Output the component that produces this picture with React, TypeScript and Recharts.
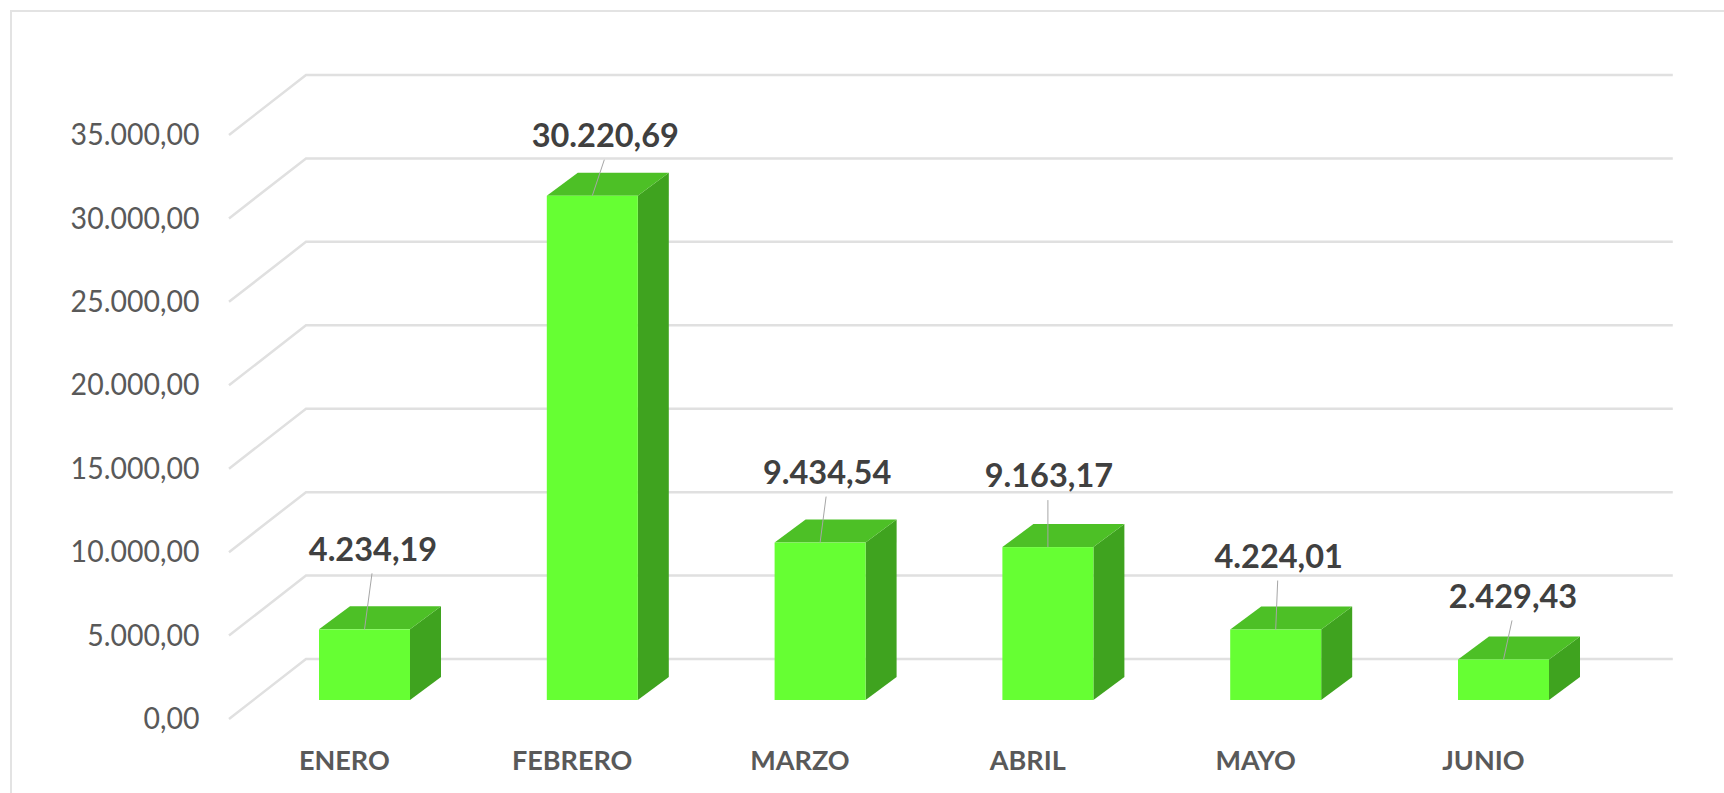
import React from 'react';
import { BarChart, Bar, XAxis, YAxis, CartesianGrid, LabelList } from 'recharts';

const months = ['ENERO', 'FEBRERO', 'MARZO', 'ABRIL', 'MAYO', 'JUNIO'];
const amounts = [4234.19, 30220.69, 9434.54, 9163.17, 4224.01, 2429.43];
const yTicks = [0, 5000, 10000, 15000, 20000, 25000, 30000, 35000];

// hand placed data labels, relative to the top centre of each bar
const labelDx = [7.5, 12, 6, 0, 2, 8.5];
const labelDy = [-81, -61, -71, -72, -74, -64];

const data = months.map((month, i) => ({ month, amount: amounts[i] }));

const fmt = (v: number) => {
  const [int, dec] = v.toFixed(2).split('.');
  return int.replace(/\B(?=(\d{3})+$)/g, '.') + ',' + dec;
};

const FONT = 'Lato, sans-serif';

const Box3D = (props: any) => {
  const { x, y, width, height } = props;
  const dx = 31;
  const dy = -23;
  const r = x + width;
  const b = y + height;
  return (
    <g>
      <path d={`M${r},${y}L${r + dx},${y + dy}L${r + dx},${b + dy}L${r},${b}Z`} fill="#3fa31f" />
      <path d={`M${x},${y}L${x + dx},${y + dy}L${r + dx},${y + dy}L${r},${y}Z`} fill="#4dc026" />
      <rect x={x} y={y} width={width} height={height} fill="#66ff33" />
    </g>
  );
};

const GridLine = (props: any) => {
  const { x1, x2, y1 } = props;
  return (
    <path
      d={`M${x1 - 22},${y1 + 19}L${x1 + 55},${y1 - 41}L${x2 + 55},${y1 - 41}`}
      fill="none"
      stroke="#e0e0e0"
      strokeWidth={2.5}
    />
  );
};

const YTick = (props: any) => {
  const { x, y, payload } = props;
  // the original face is narrower than Lato, so squeeze it a little
  return (
    <text
      transform={`translate(${x - 43.5},${y + 21.5}) scale(0.95,1)`}
      textAnchor="end"
      dominantBaseline="middle"
      fill="#595959"
      fontFamily={FONT}
      fontSize={30}
    >
      {fmt(payload.value)}
    </text>
  );
};

const XTick = (props: any) => {
  const { x, y, payload } = props;
  return (
    <text x={x - 20.5} y={y + 55} textAnchor="middle" dominantBaseline="middle" fill="#595959" fontFamily={FONT} fontSize={27} fontWeight={700}>
      {payload.value}
    </text>
  );
};

const ValueLabel = (props: any) => {
  const { x, y, width, value, index } = props;
  const cx = x + width / 2;
  const lx = cx + labelDx[index];
  const ly = y + labelDy[index];
  return (
    <g>
      <line x1={cx} y1={y} x2={lx} y2={ly + 25} stroke="#a6a6a6" strokeWidth={1} />
      <text x={lx + 1} y={ly + 4} textAnchor="middle" dominantBaseline="middle" fill="#404040" fontFamily={FONT} fontSize={32.5} fontWeight={700}>
        {fmt(value)}
      </text>
    </g>
  );
};

export default function App() {
  return (
    <div style={{ position: 'absolute', left: 0, top: 0, width: 1724, height: 793, background: '#fff', overflow: 'hidden' }}>
      <div style={{ position: 'absolute', left: 10, top: 10, width: 1800, height: 782, borderLeft: '2px solid #e3e3e3', borderTop: '2px solid #e3e3e3' }} />
      <div style={{ position: 'absolute', left: 0, top: 0, width: 1724, height: 793, overflow: 'hidden' }}>
        <BarChart
          width={1724}
          height={793}
          data={data}
          margin={{ top: 116, right: 106.2, bottom: 63, left: 201 }}
          barSize={91}
        >
          <CartesianGrid vertical={false} horizontal={(p: any) => <GridLine key={p.key} {...p} />} />
          <XAxis dataKey="month" height={30} axisLine={false} tickLine={false} tick={<XTick />} interval={0} />
          <YAxis
            width={50}
            domain={[0, 35000]}
            ticks={yTicks}
            axisLine={false}
            tickLine={false}
            tick={<YTick />}
            interval={0}
          />
          <Bar dataKey="amount" shape={<Box3D />} isAnimationActive={false}>
            <LabelList dataKey="amount" content={<ValueLabel />} />
          </Bar>
        </BarChart>
      </div>
    </div>
  );
}
